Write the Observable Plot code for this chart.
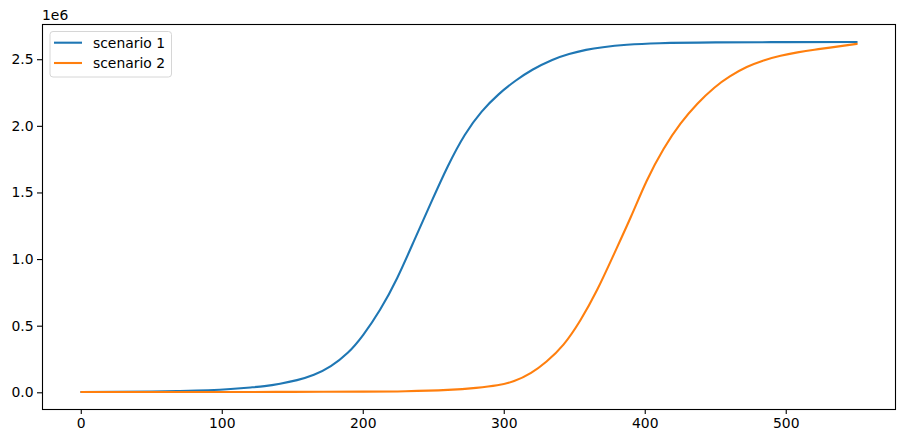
<!DOCTYPE html>
<html>
<head>
<meta charset="utf-8">
<script src="https://cdn.jsdelivr.net/npm/d3@7"></script>
<script src="https://cdn.jsdelivr.net/npm/@observablehq/plot@0.6"></script>
<style>
  html, body { margin: 0; padding: 0; background: #fff; }
  #chart { width: 904px; height: 443px; }
</style>
</head>
<body>
<div id="chart"></div>
<script>
// Series names
const seriesNames = ["scenario 1", "scenario 2"];

// scenario 1 (blue) — day, value
const days1 = [0, 50, 70, 90, 106, 120, 130, 141, 153, 165, 177, 189, 200, 212, 224, 236, 248, 260, 272, 284, 296, 308, 320, 334, 346, 358, 370, 387, 410, 450, 500, 550];
const vals1 = [6000, 9000, 13000, 19000, 28000, 40000, 50000, 68000, 95000, 135000, 200000, 300000, 435000, 625000, 860000, 1140000, 1425000, 1700000, 1935000, 2110000, 2240000, 2342000, 2425000, 2498000, 2543000, 2574000, 2594000, 2612000, 2624000, 2630000, 2632000, 2633000];

// scenario 2 (orange) — day, value
const days2 = [0, 100, 150, 200, 230, 260, 280, 295, 307, 319, 330, 342, 354, 366, 378, 390, 401, 413, 425, 437, 449, 460, 472, 484, 496, 508, 520, 531, 550];
const vals2 = [6000, 6000, 7000, 9000, 12000, 22000, 37000, 56000, 88000, 150000, 235000, 362000, 545000, 775000, 1045000, 1325000, 1590000, 1830000, 2020000, 2170000, 2290000, 2375000, 2445000, 2495000, 2530000, 2555000, 2575000, 2591000, 2619000];

const xTicks = [0, 100, 200, 300, 400, 500];
const yTicks = [0, 500000, 1000000, 1500000, 2000000, 2500000];
const colors = ["#1f77b4", "#ff7f0e"];

const data = [
  ...days1.map((d, i) => ({day: d, value: vals1[i], series: seriesNames[0]})),
  ...days2.map((d, i) => ({day: d, value: vals2[i], series: seriesNames[1]}))
];

const allX = [...days1, ...days2];
const allY = [...vals1, ...vals2];
const xMin = d3.min(allX), xMax = d3.max(allX);
const yMin = d3.min(allY), yMax = d3.max(allY);
const xPad = (xMax - xMin) * 0.05, yPad = (yMax - yMin) * 0.05;

const fontSize = "13.9px";
const chart = Plot.plot({
  width: 904,
  height: 443,
  marginLeft: 42,
  marginRight: 9,
  marginTop: 24,
  marginBottom: 34,
  style: {fontFamily: "DejaVu Sans", fontSize: fontSize, color: "black", background: "white"},
  x: {domain: [xMin - xPad, xMax + xPad], ticks: xTicks, tickSize: 5, tickPadding: 4, label: null, tickFormat: d => String(d)},
  y: {domain: [yMin - yPad, yMax + yPad], ticks: yTicks, tickSize: 5, tickPadding: 4, label: null, tickFormat: d => (d / 1e6).toFixed(1)},
  color: {domain: seriesNames, range: colors},
  marks: [
    Plot.line(data, {x: "day", y: "value", z: "series", stroke: "series", strokeWidth: 2.1, curve: "natural"}),
    Plot.frame({stroke: "black", strokeWidth: 1.1}),
    Plot.axisX({ticks: xTicks, tickSize: 5, tickPadding: 4, stroke: "black", strokeWidth: 1.1, fill: "black", fontSize: fontSize, tickFormat: d => String(d)}),
    Plot.axisY({ticks: yTicks, tickSize: 5, tickPadding: 4, stroke: "black", strokeWidth: 1.1, fill: "black", fontSize: fontSize, tickFormat: d => (d / 1e6).toFixed(1)})
  ]
});
document.getElementById("chart").appendChild(chart);

// Offset text "1e6" and legend, drawn onto the SVG
const svg = d3.select(chart);
svg.append("text")
  .attr("x", 42).attr("y", 20)
  .attr("text-anchor", "start")
  .attr("font-family", "DejaVu Sans").attr("font-size", fontSize).attr("fill", "black")
  .text("1e6");

const lg = svg.append("g").attr("text-anchor", "start");
lg.append("rect")
  .attr("x", 50).attr("y", 31.5).attr("width", 121.5).attr("height", 45.5)
  .attr("rx", 3).attr("ry", 3)
  .attr("fill", "white").attr("fill-opacity", 0.8)
  .attr("stroke", "#d6d6d6").attr("stroke-width", 1);
seriesNames.forEach((name, i) => {
  const y = 42.7 + i * 20.3;
  lg.append("line")
    .attr("x1", 54).attr("x2", 82).attr("y1", y).attr("y2", y)
    .attr("stroke", colors[i]).attr("stroke-width", 2.1);
  lg.append("text")
    .attr("x", 93).attr("y", y).attr("dy", "0.35em")
    .attr("text-anchor", "start")
    .attr("font-family", "DejaVu Sans").attr("font-size", fontSize).attr("fill", "black")
    .text(name);
});
</script>
</body>
</html>
